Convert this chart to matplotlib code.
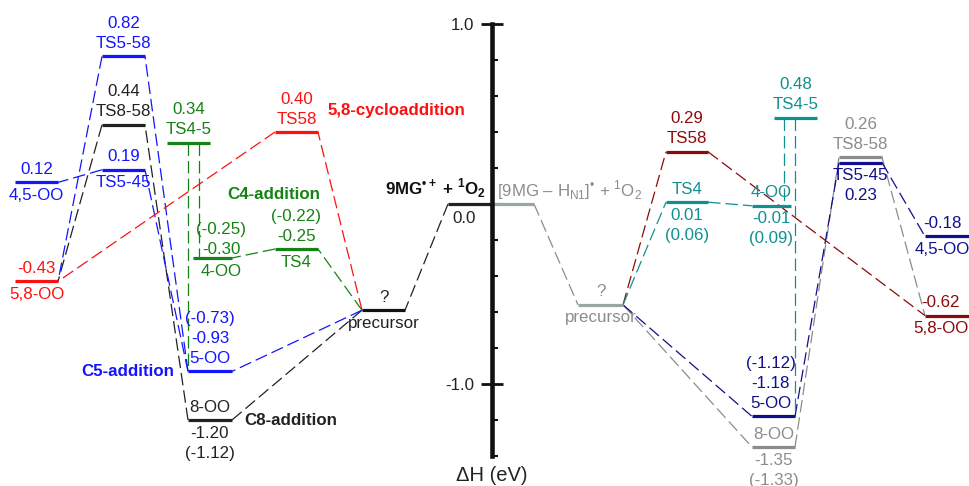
import matplotlib
matplotlib.use('Agg')
import matplotlib.pyplot as plt
from matplotlib.ticker import MultipleLocator

plt.rcParams['font.family'] = ['Liberation Sans', 'DejaVu Sans']
plt.rcParams['mathtext.fontset'] = 'custom'
plt.rcParams['mathtext.rm'] = 'Liberation Sans'
plt.rcParams['mathtext.bf'] = 'Liberation Sans:bold'
plt.rcParams['axes.unicode_minus'] = False

# ---- data: enthalpies (eV) relative to reactants ----
# 9MG.+ + 1O2 (left half)
cat_names = ['reactant', 'precursor', 'TS58', '5,8-OO', 'TS4', '4-OO', 'TS4-5',
             '5-OO', '8-OO', 'TS5-58', 'TS8-58', 'TS5-45', '4,5-OO']
cat_dH = [0.00, -0.59, 0.40, -0.43, -0.25, -0.30, 0.34,
          -0.93, -1.20, 0.82, 0.44, 0.19, 0.12]
cat_alt_names = ['TS4', '4-OO', '5-OO', '8-OO']
cat_alt_dH = [-0.22, -0.25, -0.73, -1.12]

# [9MG - HN1]. + 1O2 (right half)
rad_names = ['reactant', 'precursor', 'TS58', '5,8-OO', 'TS4', '4-OO', 'TS4-5',
             '5-OO', '8-OO', 'TS8-58', 'TS5-45', '4,5-OO']
rad_dH = [0.00, -0.56, 0.29, -0.62, 0.01, -0.01, 0.48,
          -1.18, -1.35, 0.26, 0.23, -0.18]
rad_alt_names = ['TS4', '4-OO', '5-OO', '8-OO']
rad_alt_dH = [0.06, 0.09, -1.12, -1.33]

# reaction pathways (sequence of levels)
cat_paths = [(['reactant', 'precursor', '8-OO', 'TS8-58', '5,8-OO'], 'k'),
             (['precursor', '5-OO', 'TS5-58', '5,8-OO'], 'b'),
             (['5-OO', 'TS5-45', '4,5-OO'], 'b'),
             (['precursor', 'TS58', '5,8-OO'], 'r'),
             (['precursor', 'TS4', '4-OO'], 'g')]
rad_paths = [(['reactant', 'precursor', '8-OO', 'TS8-58', '5,8-OO'], 'k'),
             (['precursor', '5-OO', 'TS5-45', '4,5-OO'], 'b'),
             (['precursor', 'TS58', '5,8-OO'], 'r'),
             (['precursor', 'TS4', '4-OO'], 'g')]

# ---- styling / layout ----
cat_col = {'k': '#222222', 'b': '#1414ff', 'r': '#ff1010', 'g': '#148214'}
rad_col = {'k': '#8c8c8c', 'b': '#10108c', 'r': '#8c0a0a', 'g': '#109090'}

# name: (x0, x1, colour key, above (top->bottom), below (top->bottom), dx, gap)
cat_layout = {
    'reactant': (448, 492, 'k', [], [], 0, 13),
    'precursor': (362, 405, 'k', ['?'], ['n'], 0, 13),
    'TS58': (275, 318, 'r', ['v', 'n'], [], 0, 13),
    '5,8-OO': (15, 58, 'r', ['v'], ['n'], 0, 13),
    'TS4': (275, 318, 'g', ['a', 'v'], ['n'], 0, 13),
    '4-OO': (193, 232, 'g', ['a', 'v'], ['n'], 9, 9),
    'TS4-5': (167, 210, 'g', ['v', 'n'], [], 0, 13),
    '5-OO': (188, 232, 'b', ['a', 'v', 'n'], [], 0, 13),
    '8-OO': (188, 232, 'k', ['n'], ['v', 'a'], 0, 13),
    'TS5-58': (102, 145, 'b', ['v', 'n'], [], 0, 13),
    'TS8-58': (102, 145, 'k', ['v', 'n'], [], 0, 13),
    'TS5-45': (102, 145, 'b', ['v'], ['n'], 0, 13),
    '4,5-OO': (15, 58, 'b', ['v'], ['n'], 0, 13),
}
rad_layout = {
    'reactant': (492, 534, 'k', [], [], 0, 13),
    'precursor': (578, 623, 'k', ['?'], ['n'], 0, 13),
    'TS58': (666, 708, 'r', ['v', 'n'], [], 0, 13),
    '5,8-OO': (925, 969, 'r', ['v'], ['n'], -6, 13),
    'TS4': (666, 708, 'g', ['n'], ['v', 'a'], 0, 13),
    '4-OO': (752, 791, 'g', ['n'], ['v', 'a'], 0, 13),
    'TS4-5': (774, 817, 'g', ['v', 'n'], [], 0, 13),
    '5-OO': (752, 795, 'b', ['a', 'v', 'n'], [], -3, 13),
    '8-OO': (752, 795, 'k', ['n'], ['v', 'a'], 0, 13),
    'TS8-58': (839, 882, 'k', ['v', 'n'], [], 0, 13),
    'TS5-45': (839, 882, 'b', [], ['n', 'v'], 0, 13),
    '4,5-OO': (925, 969, 'b', ['v'], ['n'], -5, 13),
}
# vertical connections from TS4-5 (x position, from, to, colour key)
cat_drops = [(188, 'TS4-5', '5-OO', 'g'), (199, 'TS4-5', '4-OO', 'g')]
rad_drops = [(784, 'TS4-5', '4-OO', 'g'), (795, 'TS4-5', '5-OO', 'g')]

PX = 1 / 180.0   # eV per pixel
FS = 12.2

fig = plt.figure(figsize=(9.69, 4.86), dpi=100)
ax = fig.add_axes([0, 0, 1, 1])
ax.set_xlim(0, 969)
ax.set_ylim(-282 * PX, 204 * PX)


def draw_half(names, dH, alt_names, alt_dH, layout, paths, drops, cols, special):
    E = dict(zip(names, dH))
    alt = dict(zip(alt_names, alt_dH))
    for path, ck in paths:
        for a, b in zip(path[:-1], path[1:]):
            la, lb = layout[a], layout[b]
            xs = [la[1], lb[0]] if la[1] <= lb[0] else [la[0], lb[1]]
            ax.plot(xs, [E[a], E[b]], color=cols[ck], lw=0.9,
                    dashes=(10, 4), zorder=1)
    for x, a, b, ck in drops:
        ax.plot([x, x], [E[a], E[b]], color=cols[ck], lw=0.9,
                dashes=(10, 4), zorder=1)
    for name in names:
        x0, x1, ck, above, below, dx, gap = layout[name]
        c = special.get(name, cols[ck])
        ax.plot([x0, x1], [E[name], E[name]], color=c, lw=2.3,
                solid_capstyle='butt', zorder=3)
        tc = cols[ck]

        def txt(k):
            if k == 'v':
                return '%.2f' % E[name]
            if k == 'a':
                return '(%.2f)' % alt[name]
            if k == 'n':
                return name
            return k
        xc = (x0 + x1) / 2 + dx
        for i, k in enumerate(above):
            off = gap + 20 * (len(above) - 1 - i)
            ax.text(xc, E[name] + off * PX, txt(k), color=tc, fontsize=FS,
                    ha='center', va='center')
        for i, k in enumerate(below):
            off = 13 + 20 * i
            ax.text(xc, E[name] - off * PX, txt(k), color=tc, fontsize=FS,
                    ha='center', va='center')


draw_half(cat_names, cat_dH, cat_alt_names, cat_alt_dH, cat_layout,
          cat_paths, cat_drops, cat_col, {'precursor': '#111111'})
draw_half(rad_names, rad_dH, rad_alt_names, rad_alt_dH, rad_layout,
          rad_paths, rad_drops, rad_col,
          {'precursor': '#98a6a6', 'reactant': '#98a6a6'})

# pathway titles
ax.text(396, 94 * PX, '5,8-cycloaddition', color=cat_col['r'], fontsize=FS,
        fontweight='bold', ha='center', va='center')
ax.text(274, 10 * PX, 'C4-addition', color=cat_col['g'], fontsize=FS,
        fontweight='bold', ha='center', va='center')
ax.text(128, -167 * PX, 'C5-addition', color=cat_col['b'], fontsize=FS,
        fontweight='bold', ha='center', va='center')
ax.text(291, -216 * PX, 'C8-addition', color=cat_col['k'], fontsize=FS,
        fontweight='bold', ha='center', va='center')
ax.text(486, 16 * PX, '9MG$^{\\mathbf{\u2022+}}$ + $^{\\mathbf{1}}$O$_{\\mathbf{2}}$',
        color='#111111', fontsize=FS, fontweight='bold', ha='right', va='center')
ax.text(497, 14 * PX, '[9MG \u2013 H$_{\\mathrm{N1}}$]$^{\u2022}$ + $^{1}$O$_{2}$',
        color='#8c8c8c', fontsize=FS, ha='left', va='center')

# energy axis
for s in ['top', 'right', 'bottom']:
    ax.spines[s].set_visible(False)
ax.spines['left'].set_position(('data', 492))
ax.spines['left'].set_bounds(-1.4, 1.0)
ax.spines['left'].set_linewidth(3.3)
ax.spines['left'].set_color('#111111')
ax.spines['left'].set_zorder(4)
ax.set_xticks([])
ax.set_yticks([-1.0, 1.0])
ax.set_yticklabels(['-1.0', '1.0'])
ax.yaxis.set_minor_locator(MultipleLocator(0.2))
ax.tick_params(axis='y', which='major', direction='inout', length=16, width=2,
               pad=5, labelsize=FS, color='#111111', labelcolor='#222222')
ax.tick_params(axis='y', which='minor', direction='in', length=4, width=1.5,
               color='#111111')
ax.patch.set_visible(False)
ax.text(476, -14 * PX, '0.0', fontsize=FS, color='#222222', ha='right', va='center')
ax.text(492, -271 * PX, '\u0394H (eV)', fontsize=14.5, color='#222222',
        ha='center', va='center')

fig.savefig('out.png', dpi=100)
